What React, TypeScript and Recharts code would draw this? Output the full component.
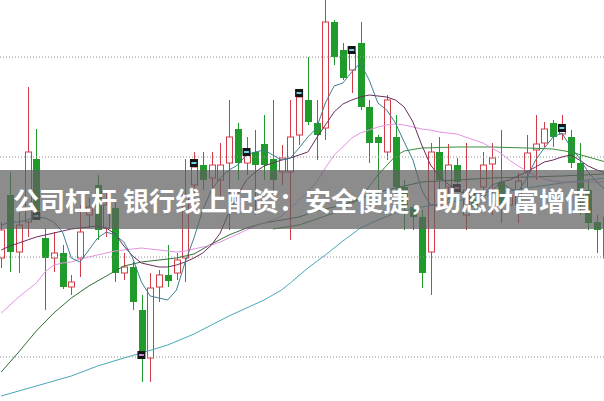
import React from "react";
import { ComposedChart, Bar, Line, XAxis, YAxis, ReferenceLine, ReferenceDot } from "recharts";

// candle prices (index 0..69)
const opens = [
  9.99, 10.62, 10.05, 10.35, 10.98, 10.19, 9.99, 10.04, 9.70, 9.99,
  10.42, 10.72, 10.29, 10.49, 9.84, 9.90, 9.47, 8.99, 9.70, 9.82,
  9.84, 9.99, 10.72, 10.92, 10.79, 10.77, 10.94, 11.28, 10.94, 11.05,
  11.13, 10.98, 10.85, 10.85, 11.22, 11.57, 11.34, 11.29, 12.35, 12.07,
  11.87, 12.14, 11.50, 11.20, 11.05, 11.20, 10.70, 10.50, 10.40, 10.05,
  11.05, 10.70, 10.92, 10.42, 10.57, 10.70, 10.93, 10.75, 10.52, 10.52,
  10.85, 11.07, 11.14, 11.34, 11.23, 11.20, 10.94, 10.67, 10.35, 9.99,
];
const closes = [
  10.27, 10.05, 10.32, 11.05, 10.45, 9.99, 10.04, 9.70, 9.75, 10.25,
  10.50, 10.27, 10.52, 9.84, 9.90, 9.55, 9.05, 9.69, 9.82, 9.76,
  9.97, 10.62, 10.90, 10.77, 10.92, 10.92, 11.20, 10.94, 11.02, 10.92,
  10.92, 10.77, 10.99, 11.20, 11.60, 11.35, 11.22, 12.35, 12.00, 11.79,
  12.04, 11.50, 11.14, 11.14, 11.57, 10.70, 10.52, 10.40, 9.84, 11.05,
  10.77, 10.92, 10.75, 10.67, 10.50, 10.92, 10.99, 10.52, 10.62, 10.76,
  11.04, 11.13, 11.28, 11.20, 11.29, 10.94, 10.52, 10.34, 10.27, 10.40,
];
const highs = [
  10.35, 10.85, 10.45, 11.70, 11.28, 10.29, 10.25, 10.12, 9.82, 10.52,
  10.59, 10.82, 10.67, 10.59, 10.04, 9.95, 9.62, 9.84, 9.87, 10.12,
  10.04, 10.98, 11.05, 11.05, 11.05, 11.14, 11.57, 11.34, 11.20, 11.27,
  11.42, 11.57, 11.12, 11.57, 11.67, 12.00, 11.57, 12.57, 12.37, 12.14,
  12.10, 12.35, 11.57, 11.22, 11.62, 11.42, 10.77, 10.52, 10.47, 11.14,
  11.20, 11.13, 10.99, 11.14, 10.65, 11.05, 11.14, 11.27, 10.67, 10.84,
  11.22, 11.42, 11.35, 11.37, 11.42, 11.27, 11.14, 10.77, 10.42, 10.47,
];
const lows = [
  9.89, 9.85, 9.84, 10.20, 10.37, 9.47, 9.85, 9.68, 9.62, 9.80,
  10.29, 10.17, 10.20, 9.75, 9.77, 9.47, 8.75, 8.75, 9.55, 9.70,
  9.77, 9.75, 10.62, 10.67, 10.57, 10.59, 10.27, 10.77, 10.82, 10.42,
  10.77, 10.57, 10.72, 10.17, 11.12, 11.32, 10.97, 11.17, 11.92, 11.77,
  11.64, 11.47, 10.94, 10.57, 10.97, 10.62, 10.27, 10.27, 9.69, 9.62,
  10.67, 10.62, 10.67, 10.27, 10.44, 10.57, 10.42, 10.34, 10.45, 10.34,
  10.70, 10.77, 11.10, 11.10, 11.17, 10.89, 10.42, 10.27, 10.04, 9.95,
];

// moving averages
const ma5 = [
  10.32, 10.35, 10.35, 10.37, 10.40, 10.39, 10.35, 10.25, 9.99, 9.95,
  10.07, 10.19, 10.25, 10.22, 10.15, 9.99, 9.75, 9.61, 9.59, 9.57,
  9.67, 9.95, 10.19, 10.47, 10.67, 10.79, 10.87, 10.92, 11.02, 11.05,
  11.07, 11.02, 10.97, 10.99, 11.09, 11.20, 11.29, 11.54, 11.71, 11.74,
  11.85, 11.94, 11.77, 11.54, 11.47, 11.34, 11.15, 10.97, 10.67, 10.52,
  10.52, 10.57, 10.69, 10.62, 10.57, 10.62, 10.72, 10.75, 10.69, 10.65,
  10.79, 10.97, 11.09, 11.20, 11.24, 11.10, 10.99, 10.85, 10.75, 10.67,
];
const ma10 = [
  10.07, 10.11, 10.14, 10.17, 10.20, 10.22, 10.24, 10.26, 10.28, 10.29,
  10.30, 10.31, 10.29, 10.23, 10.11, 10.01, 9.94, 9.92, 9.90, 9.90,
  9.92, 9.95, 9.99, 10.04, 10.12, 10.24, 10.45, 10.62, 10.77, 10.85,
  10.91, 10.94, 10.97, 10.99, 11.02, 11.05, 11.19, 11.32, 11.45, 11.53,
  11.57, 11.60, 11.62, 11.61, 11.60, 11.57, 11.50, 11.35, 11.12, 10.92,
  10.81, 10.73, 10.67, 10.63, 10.63, 10.64, 10.66, 10.75, 10.77, 10.81,
  10.85, 10.90, 10.95, 10.97, 11.00, 11.02, 10.97, 10.91, 10.87, 10.84,
];
const ma20 = [
  9.44, 9.52, 9.60, 9.67, 9.74, 9.85, 9.92, 9.94, 9.95, 9.98,
  10.00, 10.02, 10.04, 10.06, 10.07, 10.08, 10.09, 10.08, 10.07, 10.06,
  10.05, 10.06, 10.08, 10.10, 10.12, 10.15, 10.19, 10.23, 10.27, 10.31,
  10.34, 10.37, 10.41, 10.49, 10.57, 10.65, 10.75, 10.89, 11.02, 11.10,
  11.19, 11.24, 11.27, 11.30, 11.32, 11.33, 11.32, 11.30, 11.28, 11.27,
  11.25, 11.24, 11.23, 11.20, 11.17, 11.14, 11.09, 11.04, 10.97, 10.91,
  10.86, 10.81, 10.78, 10.76, 10.75, 10.75, 10.75, 10.75, 10.75, 10.75,
];
const ma30Idx = [31, 34, 37, 39, 41, 43, 45, 46, 48, 52, 56, 60, 63, 65, 67, 69];
const ma30Vals = [10.28, 10.32, 10.41, 10.47, 10.59, 10.82, 11.01, 11.06, 11.09, 11.10, 11.10, 11.09, 11.08, 11.05, 11.00, 10.95];
const ma60Idx = [0, 2, 4, 6, 8, 10, 12, 14, 16, 18, 20, 22, 24, 26, 28, 30, 32, 34, 36, 38, 40, 42, 44, 46, 48, 50, 52, 56, 60, 64, 69];
const ma60Vals = [8.85, 9.05, 9.26, 9.44, 9.59, 9.71, 9.81, 9.91, 9.95, 9.97, 9.99, 10.03, 10.13, 10.22, 10.29, 10.34, 10.37, 10.40, 10.46, 10.50, 10.55, 10.62, 10.67, 10.71, 10.75, 10.76, 10.77, 10.79, 10.80, 10.81, 10.83];
const ma120Idx = [0, 4, 8, 11, 14, 16, 19, 22, 24, 26, 28, 30, 32, 33, 35, 37, 39, 41, 43, 45, 48, 52, 56, 60, 64, 69];
const ma120Vals = [8.61, 8.71, 8.81, 8.91, 8.99, 9.04, 9.12, 9.23, 9.32, 9.41, 9.49, 9.57, 9.67, 9.74, 9.89, 10.02, 10.16, 10.29, 10.37, 10.44, 10.50, 10.56, 10.63, 10.69, 10.74, 10.79];

// signal markers
const markerIdx = [4, 16, 22, 28, 34, 40, 52, 64];
const markerVals = [10.41, 9.02, 10.94, 11.05, 11.64, 12.07, 10.69, 11.29];
const markerKinds = ["c", "p", "c", "c", "c", "c", "p", "c"];

const gridPrices = [9, 10, 11, 12];
const bannerText = "公司杠杆 银行线上配资：安全便捷，助您财富增值";

const RED = "#d23c46";
const GREEN = "#1f9a2b";

const candles = opens.map((o, i) => ({ i, open: o, close: closes[i], high: highs[i], low: lows[i] }));
const series = (vals: number[]) => vals.map((v, i) => ({ i, v }));
const sparse = (idx: number[], vals: number[]) => idx.map((i, k) => ({ i, v: vals[k] }));

const Candle = (props: any) => {
  const { x, y, width, height, payload } = props;
  if (x == null || y == null || !payload) return null;
  const { open, close, high, low } = payload;
  const top = Math.min(y, y + height);
  const h = Math.abs(height);
  const span = high - low;
  const py = (v: number) => (span === 0 ? top : top + ((high - v) / span) * h);
  const cx = Math.round(x + width / 2) + 0.5;
  const up = close >= open;
  const bTop = py(Math.max(open, close));
  const bBot = py(Math.min(open, close));
  const bh = Math.max(1, bBot - bTop);
  if (up) {
    return (
      <g>
        <line x1={cx} x2={cx} y1={top} y2={bTop} stroke={RED} strokeWidth={1} />
        <line x1={cx} x2={cx} y1={bTop + bh} y2={top + h} stroke={RED} strokeWidth={1} />
        <rect x={cx - 3} y={bTop} width={6} height={bh} fill="#fff" stroke={RED} strokeWidth={1} />
      </g>
    );
  }
  return (
    <g>
      <line x1={cx} x2={cx} y1={top} y2={top + h} stroke={GREEN} strokeWidth={1} />
      <rect x={cx - 3.5} y={bTop} width={7} height={bh} fill={GREEN} />
    </g>
  );
};

const Marker = (kind: string) => (props: any) => {
  const { cx, cy } = props;
  if (cx == null || cy == null) return null;
  const inner = kind === "p" ? "#c08ad8" : "#6fd3e3";
  return (
    <g>
      <rect x={cx - 4} y={cy - 4} width={8} height={8} fill="#141414" />
      <rect x={cx - 2.5} y={cy - 1} width={5} height={2} fill={inner} />
    </g>
  );
};

export default function App() {
  return (
    <div style={{ position: "absolute", left: 0, top: 0, width: 604, height: 401, overflow: "hidden", background: "#fff" }}>
      <ComposedChart width={604} height={401} data={candles} margin={{ top: 0, right: 0, bottom: 0, left: 0 }}>
        <XAxis type="number" dataKey="i" domain={[-0.1416, 68.808]} hide allowDataOverflow />
        <YAxis type="number" domain={[8.56, 12.57]} hide allowDataOverflow />
        {gridPrices.map((p) => (
          <ReferenceLine key={p} y={p} stroke="#8f8f8f" strokeDasharray="1 2" strokeWidth={1} />
        ))}
        <Line data={sparse(ma120Idx, ma120Vals)} dataKey="v" stroke="#4aa6b8" strokeWidth={1} dot={false} activeDot={false} isAnimationActive={false} />
        <Line data={sparse(ma60Idx, ma60Vals)} dataKey="v" stroke="#2f6e35" strokeWidth={1} dot={false} activeDot={false} isAnimationActive={false} />
        <Line data={sparse(ma30Idx, ma30Vals)} dataKey="v" stroke="#3d8c3d" strokeWidth={1} dot={false} activeDot={false} isAnimationActive={false} />
        <Line data={series(ma20)} dataKey="v" stroke="#e592e5" strokeWidth={1} dot={false} activeDot={false} isAnimationActive={false} />
        <Bar dataKey={(d: any) => [d.low, d.high]} barSize={7} shape={<Candle />} isAnimationActive={false} />
        <Line data={series(ma10)} dataKey="v" stroke="#6c2c5e" strokeWidth={1} dot={false} activeDot={false} isAnimationActive={false} />
        <Line data={series(ma5)} dataKey="v" stroke="#3d7f8f" strokeWidth={1} dot={false} activeDot={false} isAnimationActive={false} />
        {markerIdx.map((mi, k) => (
          <ReferenceDot key={mi} x={mi} y={markerVals[k]} r={4} shape={Marker(markerKinds[k])} />
        ))}
      </ComposedChart>
      <div
        style={{
          position: "absolute",
          left: 0,
          top: 170,
          width: 604,
          height: 59,
          background: "rgba(96,96,96,0.72)",
          display: "flex",
          alignItems: "center",
          justifyContent: "center",
          color: "#fff",
          fontFamily: "'Noto Sans CJK SC', sans-serif",
          fontWeight: 700,
          fontSize: 26,
          whiteSpace: "nowrap",
        }}
      >
        {bannerText}
      </div>
    </div>
  );
}
